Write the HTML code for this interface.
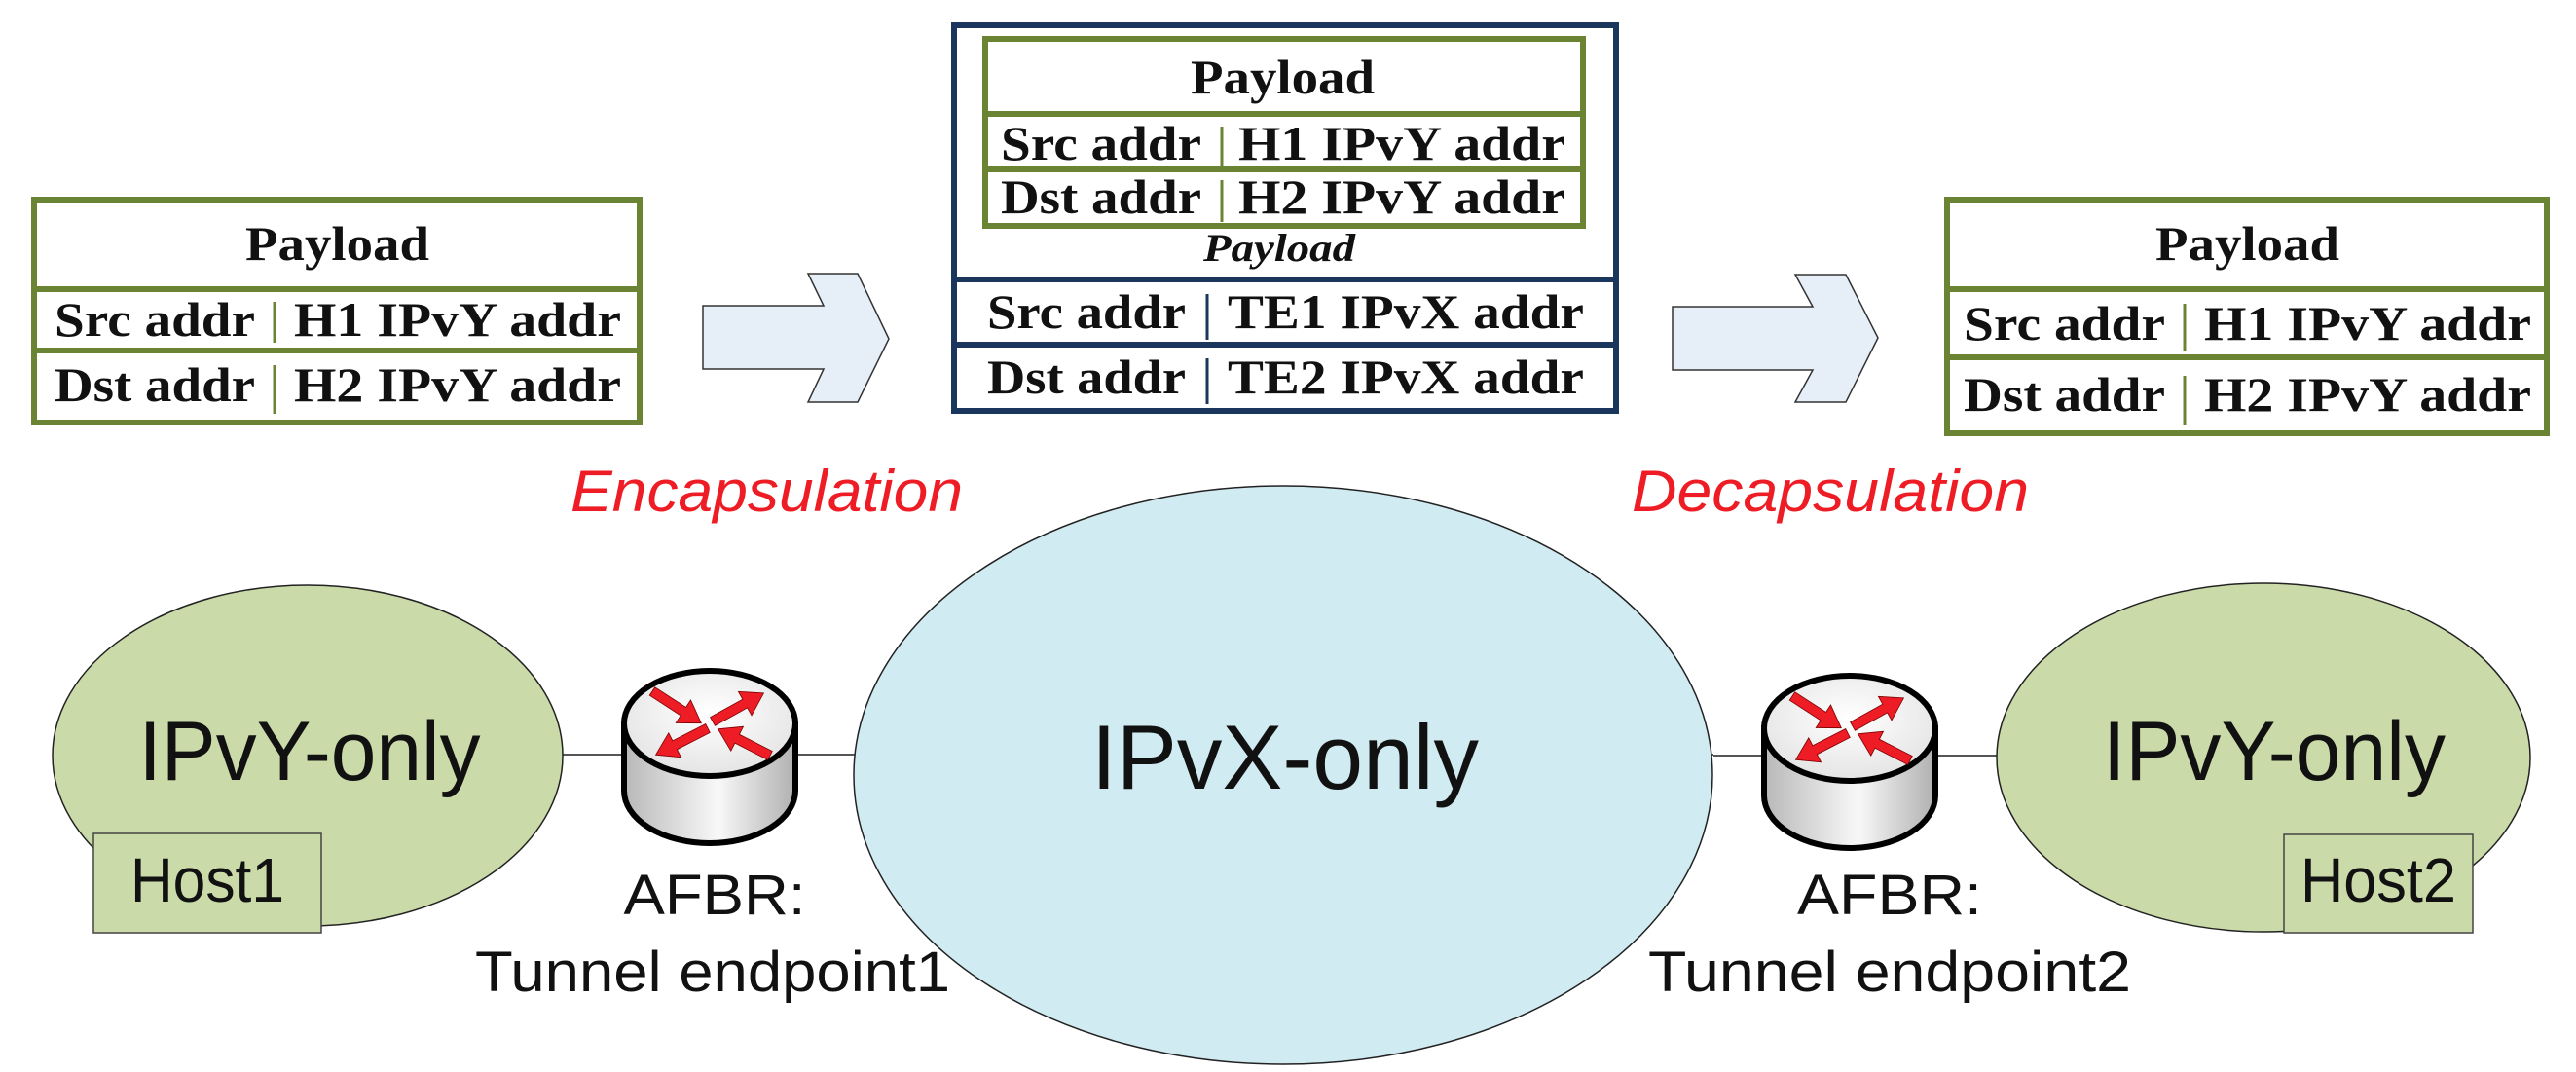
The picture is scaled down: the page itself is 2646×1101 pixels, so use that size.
<!DOCTYPE html>
<html><head><meta charset="utf-8"><style>html,body{margin:0;padding:0;background:#fff;}svg{display:block}</style></head>
<body>
<svg width="2646" height="1101" viewBox="0 0 2646 1101" xmlns="http://www.w3.org/2000/svg">
<defs>
<linearGradient id="cyl" x1="0" x2="1" y1="0" y2="0">
<stop offset="0" stop-color="#b8b8b8"/><stop offset="0.55" stop-color="#f8f8f8"/><stop offset="1" stop-color="#b0b0b0"/>
</linearGradient>
<radialGradient id="top" cx="0.5" cy="0.4" r="0.6"><stop offset="0" stop-color="#ffffff"/><stop offset="1" stop-color="#e4e4e4"/></radialGradient>
<polygon id="arr" points="0,-5 38,-5 38,-14 60,0 38,14 38,5 0,5" fill="#ee1c24" stroke="#7a0000" stroke-width="0.8"/>
<g id="router">
<path d="M0,54 L0,123 A88,54 0 0 0 176,123 L176,54 Z" fill="url(#cyl)" stroke="#000" stroke-width="6"/>
<ellipse cx="88" cy="54" rx="88" ry="54" fill="url(#top)" stroke="#000" stroke-width="6"/>
<use href="#arr" transform="translate(29,21) rotate(33)"/>
<use href="#arr" transform="translate(150,87) rotate(207)"/>
<use href="#arr" transform="translate(91,52) rotate(-29)"/>
<use href="#arr" transform="translate(86,59) rotate(153)"/>
</g>
</defs>

<line x1="578" y1="775" x2="1760" y2="775" stroke="#555" stroke-width="2"/>
<line x1="1760" y1="776" x2="2060" y2="776" stroke="#555" stroke-width="2"/>

<ellipse cx="316" cy="776" rx="262" ry="175" fill="#cadaa9" stroke="#222" stroke-width="1.5"/>
<rect x="96" y="856" width="234" height="102" fill="#cadaa9" stroke="#444" stroke-width="1.5"/>
<text x="318" y="801" font-family="Liberation Sans, sans-serif" font-size="86" text-anchor="middle" fill="#111" textLength="351" lengthAdjust="spacingAndGlyphs">IPvY-only</text>
<text x="213" y="926" font-family="Liberation Sans, sans-serif" font-size="64" text-anchor="middle" fill="#111" textLength="158" lengthAdjust="spacingAndGlyphs">Host1</text>

<ellipse cx="1318" cy="796" rx="441" ry="297" fill="#d1ebf2" stroke="#222" stroke-width="1.5"/>
<text x="1320" y="810" font-family="Liberation Sans, sans-serif" font-size="94" text-anchor="middle" fill="#111" textLength="398" lengthAdjust="spacingAndGlyphs">IPvX-only</text>

<ellipse cx="2325" cy="778" rx="274" ry="179" fill="#cadaa9" stroke="#222" stroke-width="1.5"/>
<rect x="2346" y="857" width="194" height="101" fill="#cadaa9" stroke="#444" stroke-width="1.5"/>
<text x="2336" y="801" font-family="Liberation Sans, sans-serif" font-size="86" text-anchor="middle" fill="#111" textLength="352" lengthAdjust="spacingAndGlyphs">IPvY-only</text>
<text x="2443" y="926" font-family="Liberation Sans, sans-serif" font-size="64" text-anchor="middle" fill="#111" textLength="160" lengthAdjust="spacingAndGlyphs">Host2</text>

<use href="#router" transform="translate(641,689)"/>
<use href="#router" transform="translate(1812,694)"/>

<g font-family="Liberation Sans, sans-serif" font-size="58" fill="#111" text-anchor="middle">
<text x="734" y="939" textLength="187" lengthAdjust="spacingAndGlyphs">AFBR:</text>
<text x="732" y="1018" textLength="488" lengthAdjust="spacingAndGlyphs">Tunnel endpoint1</text>
<text x="1941" y="939" textLength="190" lengthAdjust="spacingAndGlyphs">AFBR:</text>
<text x="1941" y="1018" textLength="496" lengthAdjust="spacingAndGlyphs">Tunnel endpoint2</text>
</g>

<g font-family="Liberation Sans, sans-serif" font-size="60" font-style="italic" fill="#ee1c24">
<text x="586" y="525" textLength="403" lengthAdjust="spacingAndGlyphs">Encapsulation</text>
<text x="1676" y="525" textLength="408" lengthAdjust="spacingAndGlyphs">Decapsulation</text>
</g>

<polygon points="722,314 846,314 830,281 881,281 913,348 881,413 830,413 846,379 722,379" fill="#e6eef7" stroke="#333" stroke-width="1.5"/>
<polygon points="1718,315 1862,315 1844,282 1896,282 1929,347 1896,413 1844,413 1862,380 1718,380" fill="#e6eef7" stroke="#333" stroke-width="1.5"/>

<g font-family="Liberation Serif, serif" font-weight="bold" font-size="50" fill="#111">
<rect x="35" y="205" width="622" height="229" fill="#fff" stroke="#6b8434" stroke-width="6"/>
<line x1="35" y1="297" x2="657" y2="297" stroke="#6b8434" stroke-width="6"/>
<line x1="35" y1="360" x2="657" y2="360" stroke="#6b8434" stroke-width="6"/>
<line x1="282" y1="310" x2="282" y2="352" stroke="#6b8434" stroke-width="3"/>
<line x1="282" y1="375" x2="282" y2="425" stroke="#6b8434" stroke-width="3"/>
<text x="252" y="267" textLength="189" lengthAdjust="spacingAndGlyphs">Payload</text>
<text x="56" y="345" textLength="206" lengthAdjust="spacingAndGlyphs">Src addr</text>
<text x="302" y="345" textLength="336" lengthAdjust="spacingAndGlyphs">H1 IPvY addr</text>
<text x="56" y="412" textLength="206" lengthAdjust="spacingAndGlyphs">Dst addr</text>
<text x="302" y="412" textLength="336" lengthAdjust="spacingAndGlyphs">H2 IPvY addr</text>

<rect x="980" y="26" width="680" height="396" fill="#fff" stroke="#1b365d" stroke-width="6"/>
<line x1="980" y1="287" x2="1660" y2="287" stroke="#1b365d" stroke-width="6"/>
<line x1="980" y1="354" x2="1660" y2="354" stroke="#1b365d" stroke-width="6"/>
<line x1="1240" y1="302" x2="1240" y2="349" stroke="#1b365d" stroke-width="3"/>
<line x1="1240" y1="368" x2="1240" y2="415" stroke="#1b365d" stroke-width="3"/>
<rect x="1012" y="40" width="614" height="192" fill="#fff" stroke="#6b8434" stroke-width="6"/>
<line x1="1012" y1="117" x2="1626" y2="117" stroke="#6b8434" stroke-width="6"/>
<line x1="1012" y1="174" x2="1626" y2="174" stroke="#6b8434" stroke-width="6"/>
<line x1="1255" y1="130" x2="1255" y2="170" stroke="#6b8434" stroke-width="3"/>
<line x1="1255" y1="185" x2="1255" y2="228" stroke="#6b8434" stroke-width="3"/>
<text x="1223" y="96" textLength="189" lengthAdjust="spacingAndGlyphs">Payload</text>
<text x="1028" y="164" textLength="206" lengthAdjust="spacingAndGlyphs">Src addr</text>
<text x="1272" y="164" textLength="336" lengthAdjust="spacingAndGlyphs">H1 IPvY addr</text>
<text x="1028" y="219" textLength="206" lengthAdjust="spacingAndGlyphs">Dst addr</text>
<text x="1272" y="219" textLength="336" lengthAdjust="spacingAndGlyphs">H2 IPvY addr</text>
<text x="1236" y="268" font-size="40" font-style="italic" textLength="156" lengthAdjust="spacingAndGlyphs">Payload</text>
<text x="1014" y="337" textLength="204" lengthAdjust="spacingAndGlyphs">Src addr</text>
<text x="1261" y="337" textLength="366" lengthAdjust="spacingAndGlyphs">TE1 IPvX addr</text>
<text x="1014" y="404" textLength="204" lengthAdjust="spacingAndGlyphs">Dst addr</text>
<text x="1261" y="404" textLength="366" lengthAdjust="spacingAndGlyphs">TE2 IPvX addr</text>

<rect x="2000" y="205" width="616" height="240" fill="#fff" stroke="#6b8434" stroke-width="6"/>
<line x1="2000" y1="297" x2="2616" y2="297" stroke="#6b8434" stroke-width="6"/>
<line x1="2000" y1="367" x2="2616" y2="367" stroke="#6b8434" stroke-width="6"/>
<line x1="2244" y1="312" x2="2244" y2="360" stroke="#6b8434" stroke-width="3"/>
<line x1="2244" y1="386" x2="2244" y2="436" stroke="#6b8434" stroke-width="3"/>
<text x="2214" y="267" textLength="189" lengthAdjust="spacingAndGlyphs">Payload</text>
<text x="2017" y="349" textLength="207" lengthAdjust="spacingAndGlyphs">Src addr</text>
<text x="2264" y="349" textLength="336" lengthAdjust="spacingAndGlyphs">H1 IPvY addr</text>
<text x="2017" y="422" textLength="207" lengthAdjust="spacingAndGlyphs">Dst addr</text>
<text x="2264" y="422" textLength="336" lengthAdjust="spacingAndGlyphs">H2 IPvY addr</text>
</g>
</svg>
</body></html>
